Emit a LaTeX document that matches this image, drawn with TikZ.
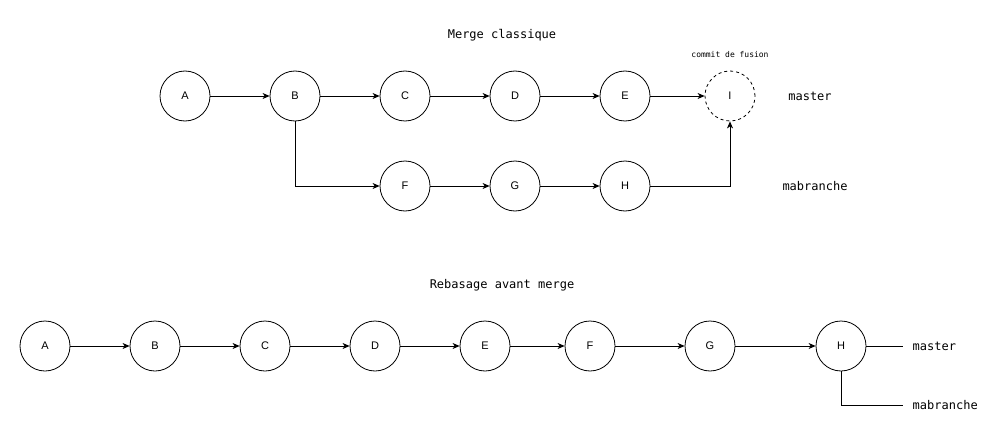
\documentclass[tikz,border=0pt]{standalone}
\usepackage{fontspec}
\setmainfont{Liberation Sans}
\newfontfamily\monofont{DejaVu Sans Mono}
\usepackage{tikz}
\usetikzlibrary{arrows, arrows.meta, positioning}
\tikzset{>={Stealth[length=7pt,width=6pt,inset=2pt]}}
\tikzset{commit/.style={draw, circle, minimum size=50pt, inner sep=0pt, font=\fontsize{11}{13}\selectfont},
	lbl/.style={font=\monofont\fontsize{12}{14}\selectfont}}

\begin{document}
\begin{tikzpicture}[x=1pt, y=-1pt, line width=0.8pt]
	\useasboundingbox (0,0) rectangle (1006,441);
	% merge classique
	\node[lbl] (T1) at (502,35) {Merge classique};
	\node[commit] (A1) at (185,96) {A};
	\node[commit] (B1) at (295,96) {B};
	\node[commit] (C1) at (405,96) {C};
	\node[commit] (D1) at (515,96) {D};
	\node[commit] (E1) at (625,96) {E};
	\node[commit, dashed] (I1) at (730,96) {I};
	\node[commit] (F1) at (405,186) {F};
	\node[commit] (G1) at (515,186) {G};
	\node[commit] (H1) at (625,186) {H};
	\node[font=\monofont\fontsize{8}{9}\selectfont] (M1) at (730,55) {commit de fusion};
	\node[lbl] (S1) at (810,96) {master};
	\node[lbl] (R1) at (815,186) {mabranche};
	\draw [->](A1)--(B1); \draw [->](B1)--(C1); \draw [->](C1)--(D1);
	\draw [->](D1)--(E1); \draw [->](E1)--(I1);
	\draw [->](B1)|-(F1); \draw [->](F1)--(G1); \draw [->](G1)--(H1);
	\draw [->](H1)-|(I1);
	% rebasage
	\node[lbl] (T2) at (502,285) {Rebasage avant merge};
	\node[commit] (A2) at (45,346) {A};
	\node[commit] (B2) at (155,346) {B};
	\node[commit] (C2) at (265,346) {C};
	\node[commit] (D2) at (375,346) {D};
	\node[commit] (E2) at (485,346) {E};
	\node[commit] (F2) at (590,346) {F};
	\node[commit] (G2) at (710,346) {G};
	\node[commit] (H2) at (841,346) {H};
	\node[lbl, anchor=west] (S2) at (909,346) {master};
	\node[lbl, anchor=west] (R2) at (909,405) {mabranche};
	\draw [->](A2)--(B2); \draw [->](B2)--(C2); \draw [->](C2)--(D2);
	\draw [->](D2)--(E2); \draw [->](E2)--(F2); \draw [->](F2)--(G2);
	\draw [->](G2)--(H2);
	\draw [shorten >=6pt](H2)--(S2); \draw [shorten >=6pt](H2)|-(R2);
\end{tikzpicture}
\end{document}
